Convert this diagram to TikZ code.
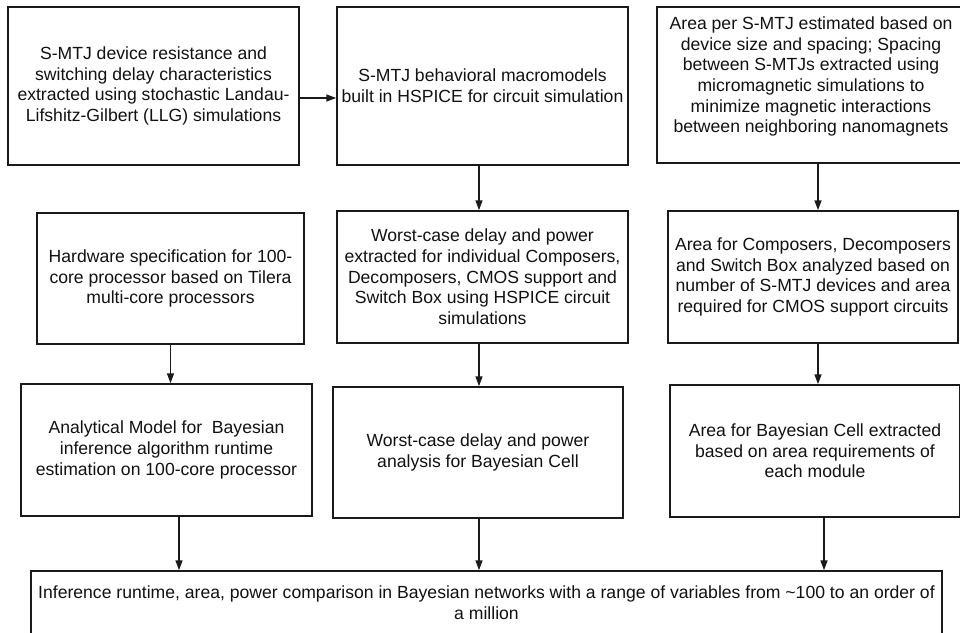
\documentclass[tikz,border=0pt]{standalone}
\usepackage{fontspec}
\setmainfont{Liberation Sans}
\usetikzlibrary{arrows.meta}
\definecolor{linecol}{HTML}{1A1A1A}
\definecolor{txtcol}{HTML}{111111}
\tikzset{
  box/.style={draw=linecol, line width=1.5pt, inner sep=0pt, align=center,
    text=txtcol, font=\fontsize{17.6}{20.7}\selectfont},
  txt/.style={inner sep=0pt, align=center, text=txtcol,
    font=\fontsize{17.6}{20.7}\selectfont},
  arr/.style={draw=linecol, line width=1.5pt, -{Triangle[length=10pt,width=7pt]}}
}
\begin{document}
\begin{tikzpicture}[x=1pt,y=-1pt]
\useasboundingbox (0,0) rectangle (960,632);
% row 1
\node[box, minimum width=291pt, minimum height=158pt] (a) at (153.5,86)
  {S-MTJ device resistance and\\switching delay characteristics\\extracted using stochastic Landau-\\Lifshitz-Gilbert (LLG) simulations};
\node[box, minimum width=291pt, minimum height=158pt] (b) at (482.5,86)
  {S-MTJ behavioral macromodels\\built in HSPICE for circuit simulation};
\node[box, minimum width=308pt, minimum height=156pt] (c) at (811,85) {};
\node[txt] (ct) at (811,76.5)
  {Area per S-MTJ estimated based on\\device size and spacing; Spacing\\between S-MTJs extracted using\\micromagnetic simulations to\\minimize magnetic interactions\\between neighboring nanomagnets};
% row 2
\node[box, minimum width=267pt, minimum height=131pt] (d) at (170.5,278.5)
  {Hardware specification for 100-\\core processor based on Tilera\\multi-core processors};
\node[box, minimum width=291pt, minimum height=132pt] (e) at (482.5,277)
  {Worst-case delay and power\\extracted for individual Composers,\\Decomposers, CMOS support and\\Switch Box using HSPICE circuit\\simulations};
\node[box, minimum width=290pt, minimum height=132pt] (f) at (813,277)
  {Area for Composers, Decomposers\\and Switch Box analyzed based on\\number of S-MTJ devices and area\\required for CMOS support circuits};
% row 3
\node[box, minimum width=291pt, minimum height=132pt] (g) at (166.5,450)
  {Analytical Model for~ Bayesian\\inference algorithm runtime\\estimation on 100-core processor};
\node[box, minimum width=290pt, minimum height=131pt] (h) at (478,452.5)
  {Worst-case delay and power\\analysis for Bayesian Cell};
\node[box, minimum width=290pt, minimum height=132pt] (i) at (815,451)
  {Area for Bayesian Cell extracted\\based on area requirements of\\each module};
% row 4
\node[box, minimum width=911pt, minimum height=64pt] (j) at (486.5,603)
  {Inference runtime, area, power comparison in Bayesian networks with a range of variables from \textasciitilde100 to an order of\\a million};
% connectors
\draw[arr] ([yshift=-12pt]a.east) -- ([yshift=-12pt]a.east -| b.west);
\draw[arr] ([xshift=-3.5pt]b.south) -- ([xshift=-3.5pt]b.south |- e.north);
\draw[arr] ([xshift=7pt]c.south) -- ([xshift=7pt]c.south |- f.north);
\draw[arr] (d.south) -- (d.south |- g.north);
\draw[arr] ([xshift=-3.5pt]e.south) -- ([xshift=-3.5pt]e.south |- h.north);
\draw[arr] ([xshift=5pt]f.south) -- ([xshift=5pt]f.south |- i.north);
\draw[arr] ([xshift=12.5pt]g.south) -- ([xshift=12.5pt]g.south |- j.north);
\draw[arr] ([xshift=1pt]h.south) -- ([xshift=1pt]h.south |- j.north);
\draw[arr] ([xshift=9pt]i.south) -- ([xshift=9pt]i.south |- j.north);
\end{tikzpicture}
\end{document}
